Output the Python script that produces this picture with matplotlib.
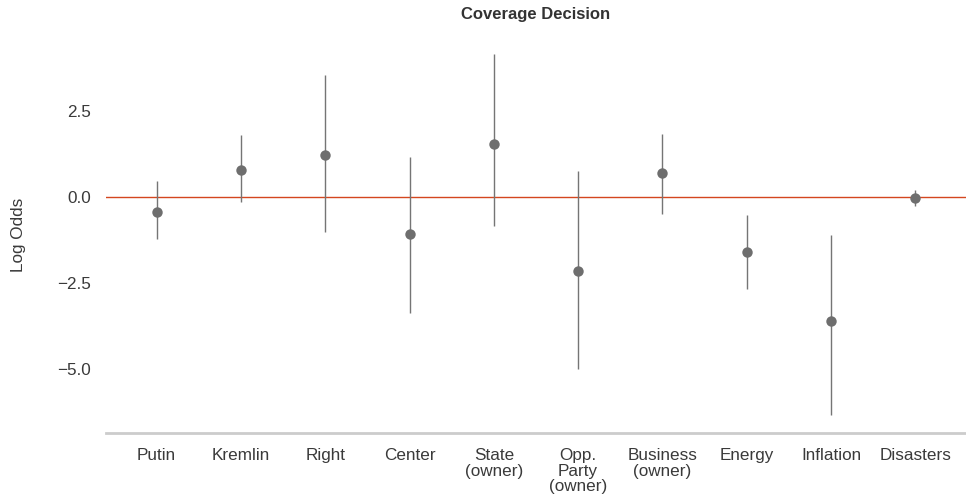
import matplotlib
matplotlib.use("Agg")
import matplotlib.pyplot as plt
import numpy as np

plt.rcParams['font.family'] = ['Liberation Sans', 'DejaVu Sans']
plt.rcParams['axes.unicode_minus'] = True

# coefficient estimates with interval bounds (log odds)
labels = ['Putin', 'Kremlin', 'Right', 'Center', 'State\n(owner)', 'Opp.\nParty\n(owner)',
          'Business\n(owner)', 'Energy', 'Inflation', 'Disasters']
estimate = [-0.42, 0.78, 1.22, -1.09, 1.55, -2.14, 0.70, -1.61, -3.61, -0.04]
lower = [-1.23, -0.15, -1.01, -3.39, -0.83, -5.02, -0.50, -2.69, -6.35, -0.25]
upper = [0.48, 1.81, 3.56, 1.16, 4.17, 0.76, 1.83, -0.52, -1.11, 0.20]

fig = plt.figure(figsize=(9.66, 5.04), dpi=100)
ax = fig.add_axes([0.1097, 0.1409, 0.8903, 0.7877])

x = np.arange(len(labels))
ax.axhline(0, color='#d4471f', lw=1.0, zorder=1)
ax.vlines(x, lower, upper, color='#757575', lw=1.0, zorder=2)
ax.plot(x, estimate, 'o', color='#6e6e6e', ms=7.5, mec='none', zorder=3)

ax.set_xlim(-0.6, len(labels) - 0.4)
span = max(upper) - min(lower)
ax.set_ylim(min(lower) - 0.05 * span, max(upper) + 0.05 * span)
ax.set_yticks([-5.0, -2.5, 0.0, 2.5])
ax.set_yticklabels(['\u22125.0', '\u22122.5', '0.0', '2.5'])
ax.set_xticks(x)
ax.set_xticklabels(labels, va='top', ha='center', linespacing=1.05)

ax.tick_params(axis='both', length=0, labelsize=12.3, labelcolor='#3a3a3a')
ax.tick_params(axis='x', pad=11)
ax.tick_params(axis='y', pad=11)
for side in ['top', 'right', 'left']:
    ax.spines[side].set_visible(False)
ax.spines['bottom'].set_color('#cccccc')
ax.spines['bottom'].set_linewidth(2.0)

ax.set_ylabel('Log Odds', fontsize=12.3, color='#3a3a3a')
ax.yaxis.set_label_coords(-0.093, 0.5)
ax.set_title('Coverage Decision', fontsize=12, fontweight='bold', color='#333333', pad=12.5)

fig.savefig('out.png', dpi=100)
